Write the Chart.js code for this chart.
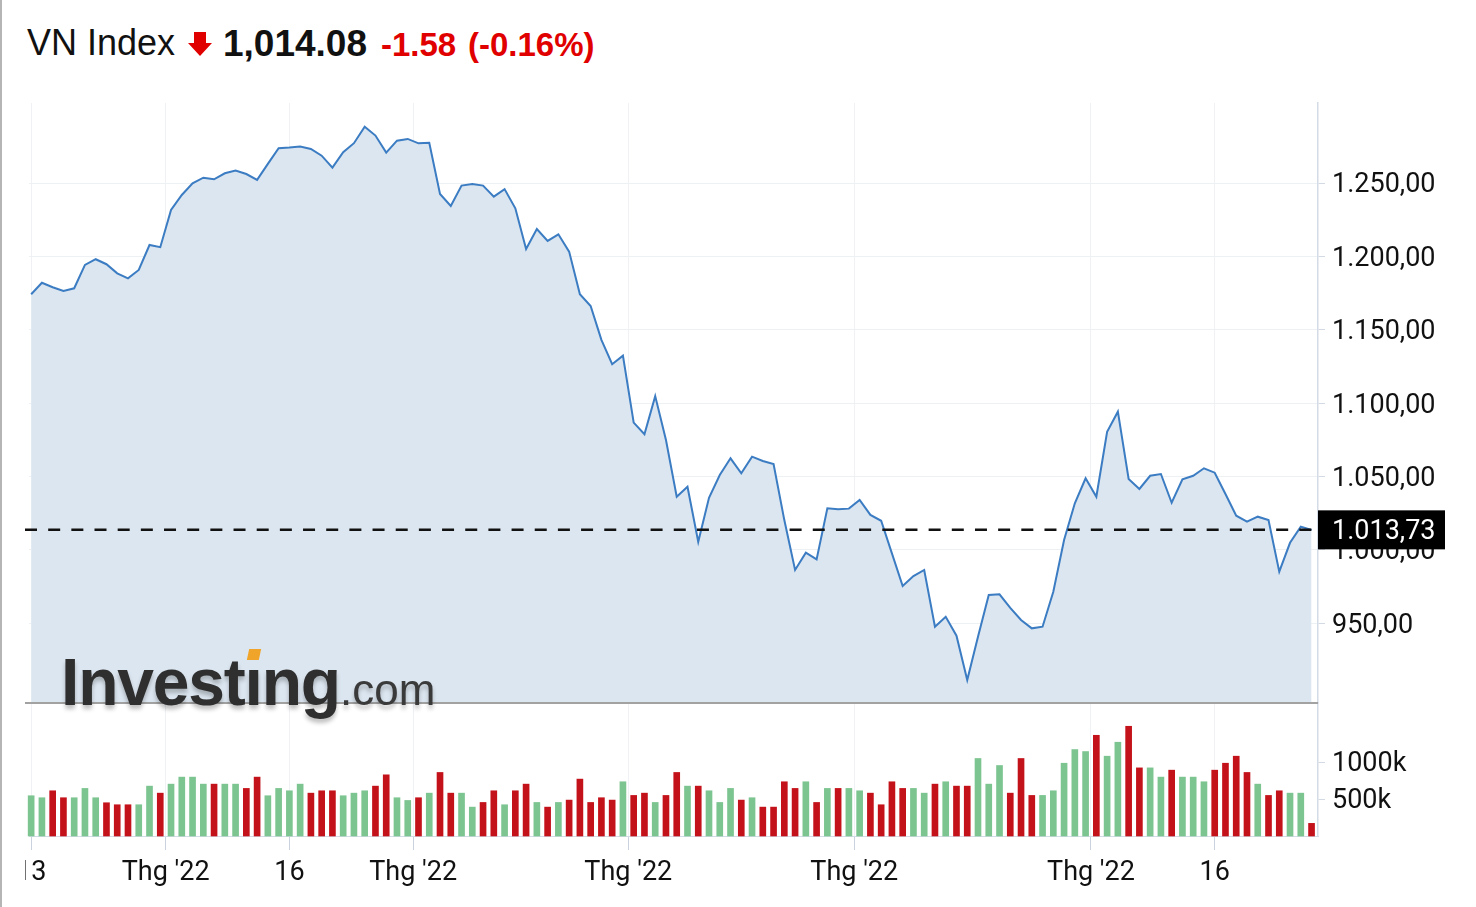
<!DOCTYPE html>
<html>
<head>
<meta charset="utf-8">
<script src="https://cdn.jsdelivr.net/npm/chart.js@4.4.0/dist/chart.umd.min.js"></script>
<style>
  html, body { margin: 0; padding: 0; background: #fff; }
  body { width: 1476px; height: 907px; position: relative; overflow: hidden; }
  .edge { position: absolute; left: 0; top: 0; width: 2px; height: 907px; background: #b5b5b5; }
  .t { position: absolute; white-space: nowrap; font-family: "Liberation Sans", Arial, sans-serif; }
  .name { left: 27px; top: 25px; font-size: 36px; line-height: 36px; color: #111; }
  .last { left: 223px; top: 25px; font-size: 37px; line-height: 37px; font-weight: bold; color: #111; }
  .chg { top: 28px; font-size: 33px; line-height: 33px; font-weight: bold; color: #e10000; }
  .arrow { position: absolute; left: 188px; top: 32px; }
  #wrap { position: absolute; left: 25px; top: 95px; width: 1451px; height: 812px; }
  #wm { position: absolute; left: 61px; top: 649px; font-family: "Liberation Sans", Arial, sans-serif;
        font-size: 66px; line-height: 66px; white-space: nowrap; color: #2f2f2f;
        text-shadow: 0 4px 4px rgba(0,0,0,0.25); pointer-events: none; }
  #wm .big { font-weight: bold; letter-spacing: -1.2px; }
  #wm .i { position: relative; }
  #wm .i b { position: absolute; left: 3px; top: 4px; width: 12px; height: 11px; background: #f0a52a;
             transform: skewX(-12deg); }
  #wm .com { font-size: 44px; color: #3a3a3a; }
</style>
</head>
<body>
<div class="edge"></div>
<div class="t name">VN Index</div>
<svg class="arrow" width="24" height="24" viewBox="0 0 24 24"><polygon points="6,0 18,0 18,11 24,11 12,24 0,11 6,11" fill="#e10000"/></svg>
<div class="t last">1,014.08</div>
<div class="t chg" style="left:381px">-1.58</div>
<div class="t chg" style="left:468px">(-0.16%)</div>
<div id="wrap"><canvas id="chart"></canvas></div>
<div id="wm"><span class="big">Invest<span class="i">&#305;<b></b></span>ng</span><span class="com">.com</span></div>
<script>
// daily close of the index
const closes = [
  1174.3, 1182.2, 1179.1, 1176.6, 1178.4, 1194.3, 1198.2, 1194.8, 1188.6, 1185.2,
  1190.9, 1207.9, 1206.4, 1231.8, 1242.0, 1250.0, 1253.8, 1252.7, 1256.8, 1258.6,
  1256.3, 1252.3, 1263.2, 1273.9, 1274.3, 1275.0, 1273.4, 1268.8, 1260.6, 1271.1,
  1277.3, 1288.6, 1282.5, 1270.9, 1279.0, 1280.2, 1277.2, 1277.6, 1242.7, 1234.5,
  1248.4, 1249.5, 1248.4, 1240.9, 1246.0, 1232.9, 1205.2, 1218.8, 1210.7, 1215.2,
  1203.4, 1174.3, 1166.3, 1143.2, 1126.6, 1132.5, 1086.8, 1078.9, 1104.9, 1075.0,
  1036.3, 1043.1, 1005.6, 1035.6, 1051.1, 1062.5, 1052.3, 1063.6, 1060.7, 1058.6,
  1020.4, 986.4, 998.2, 993.6, 1028.4, 1027.7, 1028.2, 1034.1, 1023.9, 1019.9,
  997.7, 975.4, 982.2, 986.4, 947.7, 954.5, 941.6, 911.4, 940.9, 969.3,
  969.8, 960.6, 952.3, 946.6, 947.7, 971.5, 1006.8, 1031.8, 1048.9, 1036.3,
  1080.6, 1094.3, 1048.4, 1041.6, 1050.6, 1051.8, 1032.2, 1048.2, 1050.6, 1055.7,
  1052.7, 1038.2, 1023.4, 1019.3, 1022.7, 1020.4, 985.2, 1004.9, 1015.9, 1013.73
];
// volume, thousands
const volumes = [
  545, 518, 612, 518, 518, 644, 518, 450, 423, 423,
  423, 675, 580, 702, 797, 797, 702, 702, 702, 702,
  644, 797, 545, 644, 612, 702, 580, 612, 612, 545,
  580, 612, 675, 828, 518, 481, 518, 580, 860, 580,
  580, 391, 454, 612, 423, 612, 702, 454, 391, 454,
  486, 770, 454, 518, 486, 734, 549, 580, 454, 549,
  860, 675, 675, 612, 454, 644, 486, 518, 391, 391,
  734, 644, 734, 454, 644, 644, 644, 612, 580, 423,
  734, 644, 644, 580, 702, 734, 675, 675, 1049, 702,
  954, 580, 1049, 549, 549, 612, 985, 1170, 1143, 1363,
  1080, 1269, 1485, 922, 922, 797, 891, 797, 797, 734,
  891, 985, 1080, 860, 702, 549, 612, 580, 580, 171
];
const priceTicks = [950, 1000, 1050, 1100, 1150, 1200, 1250];
const volumeTicks = [500, 1000];
const xTickPos = [0, 12.5, 24, 35.5, 55.5, 76.5, 98.5, 110];
const xTickLabels = ['13', "Thg '22", '16', "Thg '22", "Thg '22", "Thg '22", "Thg '22", '16'];

const UP = '#7cc490', DOWN = '#c4121a';
const barColors = closes.map((v, i) => (i === 0 || v >= closes[i - 1]) ? UP : DOWN);

function vnNum(v) {
  const parts = v.toFixed(2).split('.');
  return parts[0].replace(/\B(?=(\d{3})+(?!\d))/g, '.') + ',' + parts[1];
}

const axisFont = { family: 'Roboto', size: 27 };
const axisLine = '#d3dbe6';

const overlay = {
  id: 'overlay',
  afterDraw(chart) {
    const { ctx, chartArea, scales } = chart;
    const last = closes[closes.length - 1];
    const yLast = scales.y.getPixelForValue(last);
    ctx.save();
    ctx.strokeStyle = '#a2a2a2';
    ctx.lineWidth = 2;
    ctx.beginPath();
    ctx.moveTo(0, scales.y.bottom);
    ctx.lineTo(chartArea.right, scales.y.bottom);
    ctx.stroke();

    ctx.setLineDash([12, 11.17]);
    ctx.strokeStyle = '#111';
    ctx.lineWidth = 2.5;
    ctx.beginPath();
    ctx.moveTo(0, yLast);
    ctx.lineTo(chartArea.right, yLast);
    ctx.stroke();
    ctx.setLineDash([]);

    ctx.fillStyle = '#000';
    ctx.fillRect(chartArea.right, yLast - 19.5, 127, 39);
    ctx.fillStyle = '#fff';
    ctx.font = '27px Roboto';
    ctx.textAlign = 'left';
    ctx.textBaseline = 'middle';
    ctx.fillText(vnNum(last), chartArea.right + 14, yLast + 2);
    ctx.restore();
  }
};

new Chart(document.getElementById('chart'), {
  type: 'line',
  data: {
    datasets: [{
      type: 'line',
      data: closes.map((v, i) => ({ x: i, y: v })),
      yAxisID: 'y',
      borderColor: '#3b7cc2',
      borderWidth: 2,
      backgroundColor: '#dce6f0',
      fill: 'start',
      pointRadius: 0,
      tension: 0
    }, {
      type: 'bar',
      data: volumes.map((v, i) => ({ x: i, y: v })),
      yAxisID: 'yv',
      backgroundColor: barColors,
      barThickness: 6,
      clip: false
    }]
  },
  options: {
    animation: false,
    responsive: true,
    maintainAspectRatio: false,
    layout: { padding: { top: 8, left: 4, right: 0, bottom: 0 } },
    plugins: { legend: { display: false }, tooltip: { enabled: false } },
    scales: {
      x: {
        type: 'linear',
        min: -0.2,
        max: 119.6,
        offset: false,
        afterBuildTicks: s => { s.ticks = xTickPos.map(v => ({ value: v })); },
        afterFit: s => { s.paddingLeft = 0; s.paddingRight = 0; s.height = 71; },
        ticks: {
          autoSkip: false, maxRotation: 0, padding: 7, color: '#111', font: axisFont,
          callback: (v, idx) => xTickLabels[idx]
        },
        grid: { color: '#eff1f4', tickColor: '#c9d2de', tickLength: 14, offset: false },
        border: { color: axisLine }
      },
      y: {
        position: 'right',
        stack: 'right',
        stackWeight: 600,
        min: 895.7,
        max: 1304.7,
        afterBuildTicks: s => { s.ticks = priceTicks.map(v => ({ value: v })); },
        afterFit: s => { s.width = 158; s.paddingTop = 0; s.paddingBottom = 0; },
        ticks: { padding: 7, labelOffset: 2.5, color: '#111', font: axisFont, callback: v => vnNum(v) },
        grid: { color: '#eef1f4', tickColor: '#d3dae4', tickLength: 7 },
        border: { color: axisLine, width: 1.5 }
      },
      yv: {
        position: 'right',
        stack: 'right',
        stackWeight: 133,
        min: 0,
        max: 1800,
        afterBuildTicks: s => { s.ticks = volumeTicks.map(v => ({ value: v })); },
        afterFit: s => { s.width = 158; s.paddingTop = 0; s.paddingBottom = 0; },
        ticks: { padding: 7, labelOffset: 2, color: '#111', font: axisFont, callback: v => v + 'k' },
        grid: { drawOnChartArea: false, tickColor: '#d3dae4', tickLength: 7 },
        border: { color: axisLine, width: 1.5 }
      }
    }
  },
  plugins: [overlay]
});
</script>
</body>
</html>
